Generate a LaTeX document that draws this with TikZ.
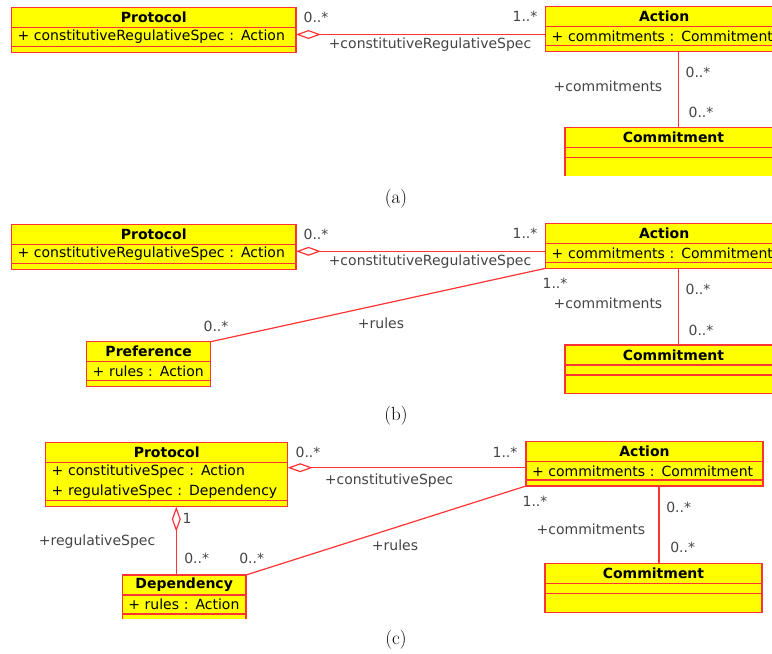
\documentclass[tikz,border=0pt]{standalone}
\usepackage{fontspec}
\newfontfamily\umlfont{DejaVu Sans}
\usetikzlibrary{positioning}
\usetikzlibrary{arrows.meta}
\definecolor{umlred}{HTML}{FF3333}
\definecolor{umlyellow}{HTML}{FFFF00}
\definecolor{umlgray}{HTML}{444444}
\tikzset{box/.style={draw=umlred, fill=umlyellow, line width=1.3pt, outer sep=0pt, inner sep=0pt}}
\tikzset{head/.style={box, minimum height=20pt, font=\umlfont\bfseries\fontsize{14}{16}\selectfont}}
\tikzset{attr/.style={box, inner xsep=6pt, minimum height=19pt, align=left,
   font=\umlfont\fontsize{14}{20}\selectfont}}
\tikzset{tail/.style={box, minimum height=6pt}}
\tikzset{role/.style={text=umlgray, inner sep=0pt, font=\umlfont\fontsize{14}{16}\selectfont}}
\tikzset{assoc/.style={draw=umlred, line width=1.2pt}}
\tikzset{aggr/.style={assoc, -{Diamond[open, length=25pt, width=9pt]}}}
\tikzset{caption/.style={inner sep=0pt, font=\fontsize{19}{21}\selectfont}}

\begin{document}
\begin{tikzpicture}[x=1pt, y=-1pt]

  \useasboundingbox (0,0) rectangle (772,654);

  % (a)
  \begin{scope}
    \clip (0,0) rectangle (772,175.5);
    \node[head, minimum width=284.5pt, anchor=north west] (protA) at (11.5,7.5) {Protocol};
    \node[attr, text width=272.5pt, below=0pt of protA] (protAattr) {+ constitutiveRegulativeSpec : Action};
    \node[tail, minimum width=284.5pt, below=0pt of protAattr] (protAtail) {};

    \node[head, minimum width=237pt, anchor=north west] (actA) at (545.7,6.7) {Action};
    \node[attr, text width=225pt, below=0pt of actA] (actAattr) {+ commitments : Commitment};
    \node[tail, minimum width=237pt, below=0pt of actAattr] (actAtail) {};

    \node[head, minimum width=217pt, anchor=north west] (comA) at (565,127.7) {Commitment};
    \node[tail, minimum width=217pt, minimum height=10pt, below=0pt of comA] (comAattr) {};
    \node[tail, minimum width=217pt, minimum height=19pt, below=0pt of comAattr] (comAtail) {};

    \coordinate (pa) at ([yshift=-7pt]protAattr.north east);
    \coordinate (ca) at ([xshift=133pt]actAtail.south west);
    \draw[aggr] (pa -| actA.west) -- (pa);
    \draw[assoc] (ca) -- (ca |- comA.north);

    \node[role] (ma1) at (316,17) {0..*};
    \node[role] (ma2) at (525,16) {1..*};
    \node[role] (ra1) at (430,45) {+constitutiveRegulativeSpec};
    \node[role] (ra2) at (608,86) {+commitments};
    \node[role] (ma3) at (698,72) {0..*};
    \node[role] (ma4) at (701,112) {0..*};
  \end{scope}
  \node[caption] (capA) at (396,199) {(a)};

  % (b)
  \begin{scope}
    \clip (0,216) rectangle (772,393);
    \node[head, minimum width=284.5pt, anchor=north west] (protB) at (11.5,224.3) {Protocol};
    \node[attr, text width=272.5pt, below=0pt of protB] (protBattr) {+ constitutiveRegulativeSpec : Action};
    \node[tail, minimum width=284.5pt, below=0pt of protBattr] (protBtail) {};

    \node[head, minimum width=237pt, anchor=north west] (actB) at (545.7,223.3) {Action};
    \node[attr, text width=225pt, below=0pt of actB] (actBattr) {+ commitments : Commitment};
    \node[tail, minimum width=237pt, below=0pt of actBattr] (actBtail) {};

    \node[head, minimum width=217pt, anchor=north west] (comB) at (565,345) {Commitment};
    \node[tail, minimum width=217pt, minimum height=10pt, below=0pt of comB] (comBattr) {};
    \node[tail, minimum width=217pt, minimum height=19pt, below=0pt of comBattr] (comBtail) {};

    \node[head, minimum width=124pt, anchor=north west] (prefB) at (86.7,341.7) {Preference};
    \node[attr, text width=112pt, below=0pt of prefB] (prefBattr) {+ rules : Action};
    \node[tail, minimum width=124pt, below=0pt of prefBattr] (prefBtail) {};

    \coordinate (pb) at ([yshift=-7pt]protBattr.north east);
    \coordinate (cb) at ([xshift=133pt]actBtail.south west);
    \draw[aggr] (pb -| actB.west) -- (pb);
    \draw[assoc] (cb) -- (cb |- comB.north);
    \draw[assoc] (prefB.north east) -- (actBtail.south west);

    \node[role] (mb1) at (316,234) {0..*};
    \node[role] (mb2) at (525,233) {1..*};
    \node[role] (rb1) at (430,262) {+constitutiveRegulativeSpec};
    \node[role] (mb5) at (216,326) {0..*};
    \node[role] (rb3) at (381,323) {+rules};
    \node[role] (mb6) at (555,283) {1..*};
    \node[role] (rb2) at (608,303) {+commitments};
    \node[role] (mb3) at (698,289) {0..*};
    \node[role] (mb4) at (701,330) {0..*};
  \end{scope}
  \node[caption] (capB) at (396,416) {(b)};

  % (c)
  \begin{scope}
    \clip (0,434) rectangle (772,618.5);
    \node[head, minimum width=242pt, anchor=north west] (protC) at (45.7,442.7) {Protocol};
    \node[attr, text width=230pt, minimum height=38pt, below=0pt of protC] (protCattr)
      {+ constitutiveSpec : Action\\+ regulativeSpec : Dependency};
    \node[tail, minimum width=242pt, below=0pt of protCattr] (protCtail) {};

    \node[head, minimum width=237pt, anchor=north west] (actC) at (526,441.7) {Action};
    \node[attr, text width=225pt, minimum height=18.3pt, below=0pt of actC] (actCattr) {+ commitments : Commitment};
    \node[tail, minimum width=237pt, below=0pt of actCattr] (actCtail) {};

    \node[head, minimum width=217pt, anchor=north west] (comC) at (545,563.3) {Commitment};
    \node[tail, minimum width=217pt, minimum height=10pt, below=0pt of comC] (comCattr) {};
    \node[tail, minimum width=217pt, minimum height=19pt, below=0pt of comCattr] (comCtail) {};

    \node[head, minimum width=123.7pt, anchor=north west] (depC) at (122.3,575) {Dependency};
    \node[attr, text width=111.7pt, below=0pt of depC] (depCattr) {+ rules : Action};
    \node[tail, minimum width=123.7pt, below=0pt of depCattr] (depCtail) {};

    \coordinate (pc) at ([yshift=-5pt]protCattr.north east);
    \coordinate (dc) at ([xshift=130.6pt]protCtail.south west);
    \coordinate (cc) at ([xshift=133pt]actCtail.south west);
    \draw[aggr] (pc -| actC.west) -- (pc);
    \draw[aggr] (dc |- depC.north) -- (dc);
    \draw[assoc] (cc) -- (cc |- comC.north);
    \draw[assoc] (depC.north east) -- (actCtail.south west);

    \node[role] (mc1) at (308,452.7) {0..*};
    \node[role] (mc2) at (505,452.7) {1..*};
    \node[role] (rc1) at (389,480.7) {+constitutiveSpec};
    \node[role] (mc7) at (187,518.3) {1};
    \node[role] (rc4) at (97,541.7) {+regulativeSpec};
    \node[role] (mc8) at (196.7,558.3) {0..*};
    \node[role] (mc5) at (251.7,558.3) {0..*};
    \node[role] (rc3) at (395,545) {+rules};
    \node[role] (mc6) at (535,501.7) {1..*};
    \node[role] (rc2) at (591,529.3) {+commitments};
    \node[role] (mc3) at (678.7,507.3) {0..*};
    \node[role] (mc4) at (682.7,547.3) {0..*};
  \end{scope}
  \node[caption] (capC) at (396,640) {(c)};

\end{tikzpicture}
\end{document}
